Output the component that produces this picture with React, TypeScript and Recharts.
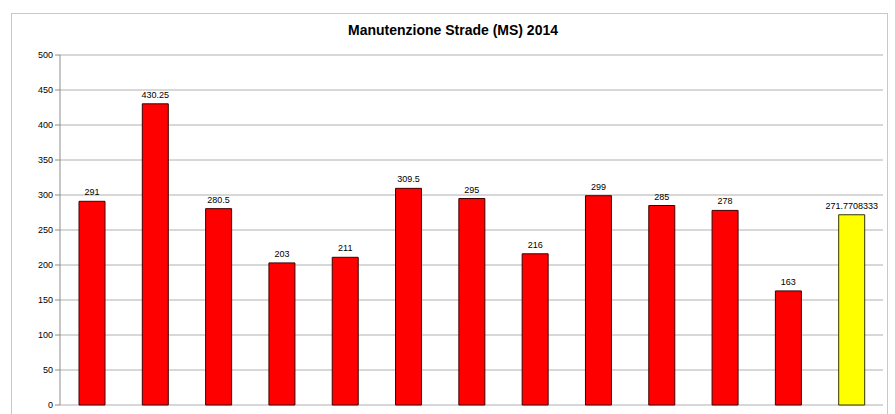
import React from 'react';
import { BarChart, Bar, XAxis, YAxis, CartesianGrid, LabelList, Cell } from 'recharts';

const categories = ['Gennaio', 'Febbraio', 'Marzo', 'Aprile', 'Maggio', 'Giugno', 'Luglio', 'Agosto', 'Settembre', 'Ottobre', 'Novembre', 'Dicembre', 'Media'];
const values = [291, 430.25, 280.5, 203, 211, 309.5, 295, 216, 299, 285, 278, 163, 271.7708333];
const colors = ['#ff0000', '#ff0000', '#ff0000', '#ff0000', '#ff0000', '#ff0000', '#ff0000', '#ff0000', '#ff0000', '#ff0000', '#ff0000', '#ff0000', '#ffff00'];
const yTicks = [0, 50, 100, 150, 200, 250, 300, 350, 400, 450, 500];
const boundaryTicks = [0, 1, 2, 3, 4, 5, 6, 7, 8, 9, 10, 11, 12, 13];
const title = 'Manutenzione Strade (MS) 2014';

const data = categories.map((c, i) => ({ name: c, value: values[i] }));

const FONT = '"Liberation Sans", Arial, sans-serif';

export default function App() {
  return (
    <div style={{ position: 'absolute', left: 0, top: 0, width: 895, height: 414, overflow: 'hidden', background: '#fff', fontFamily: FONT }}>
      <div style={{ position: 'absolute', left: 11, top: 13, width: 877, height: 460, border: '1px solid #c8c8c8', boxSizing: 'border-box' }} />
      <div style={{ position: 'absolute', left: 0, top: 22, width: 906, textAlign: 'center', fontWeight: 'bold', fontSize: 14, color: '#000' }}>{title}</div>
      <div style={{ position: 'absolute', left: 0, top: 0 }}>
        <BarChart width={895} height={470} data={data} margin={{ top: 55, right: 12, left: 0, bottom: 14 }} barSize={26}>
          <CartesianGrid horizontal={true} vertical={false} stroke="#b0b0b0" strokeWidth={1} />
          <XAxis xAxisId={1} type="number" domain={[0, 13]} ticks={boundaryTicks} tick={false} height={1}
            axisLine={{ stroke: '#8c8c8c' }} tickLine={{ stroke: '#8c8c8c' }} tickSize={5} orientation="bottom" allowDataOverflow />
          <XAxis dataKey="name" xAxisId={0} axisLine={false} tickLine={false} interval={0} height={50}
            tick={{ fontSize: 9, fill: '#000', fontFamily: FONT }} angle={-45} textAnchor="end" dy={4} />
          <YAxis domain={[0, 500]} ticks={yTicks} width={60} axisLine={{ stroke: '#8c8c8c' }} tickLine={{ stroke: '#8c8c8c' }} tickSize={5}
            tick={{ fontSize: 9, fill: '#000', fontFamily: FONT }} interval={0} />
          <Bar dataKey="value" xAxisId={0} stroke="#3a0000" strokeWidth={1} isAnimationActive={false}>
            {data.map((d, i) => (
              <Cell key={d.name} fill={colors[i]} stroke={i === 12 ? '#333300' : '#400000'} />
            ))}
            <LabelList dataKey="value" position="top" offset={6} style={{ fontSize: 9, fill: '#000', fontFamily: FONT }} />
          </Bar>
        </BarChart>
      </div>
    </div>
  );
}
